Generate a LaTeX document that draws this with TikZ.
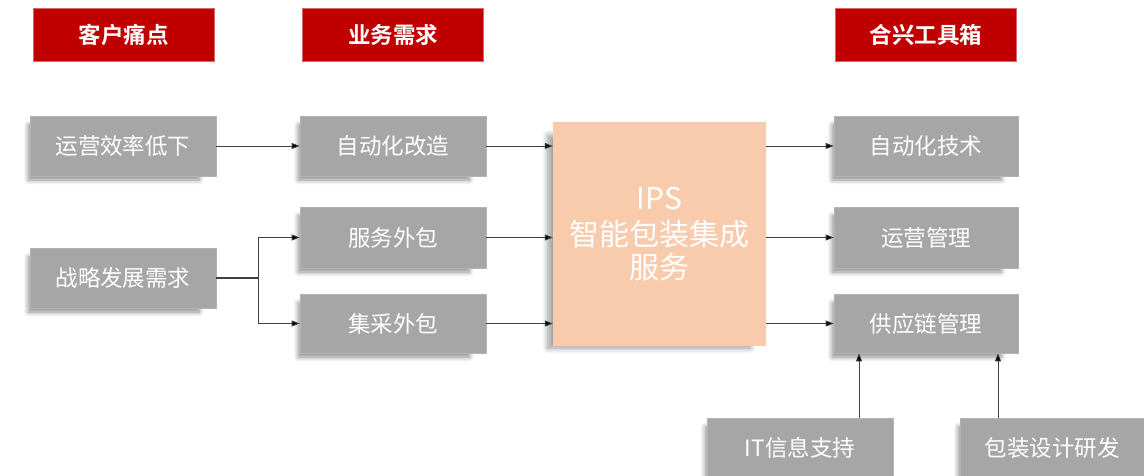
\documentclass[tikz,border=0pt]{standalone}
\usepackage{fontspec}
\newfontfamily\cjk{Noto Sans CJK SC}[BoldFont={Noto Sans CJK SC Bold}]
\usetikzlibrary{arrows.meta,shadows.blur,calc}
\definecolor{hdrred}{HTML}{C00000}
\definecolor{boxgray}{HTML}{A6A6A6}
\definecolor{ipsorange}{HTML}{F8CBAD}
\definecolor{linegray}{HTML}{404040}
\tikzset{
  hdr/.style={fill=hdrred,draw=hdrred!60,line width=0.8pt,text=white,minimum width=181pt,minimum height=53pt,inner sep=0pt,font=\cjk\bfseries\fontsize{22.5}{26}\selectfont},
  gbox/.style={fill=boxgray,draw=boxgray!85!white,line width=0.6pt,text=white,minimum width=186pt,minimum height=60pt,inner sep=0pt,font=\cjk\fontsize{22.5}{26}\selectfont,
    blur shadow={shadow xshift=-10pt,shadow yshift=-7pt,shadow scale=0.92,shadow blur steps=8,shadow blur radius=5pt,shadow opacity=45}},
  ipsbox/.style={fill=ipsorange,text=white,minimum width=213pt,minimum height=224pt,inner sep=0pt,align=center,font=\cjk\fontsize{30}{37}\selectfont,
    blur shadow={shadow xshift=-11pt,shadow yshift=-8pt,shadow scale=0.95,shadow blur steps=8,shadow blur radius=6pt,shadow opacity=40}},
  arr/.style={draw=linegray,line width=0.8pt,-{Triangle[length=8pt,width=6pt,fill=black]}},
}
\begin{document}
\begin{tikzpicture}[x=1pt,y=-1pt]
\useasboundingbox (0,0) rectangle (1144,476);
\clip (0,0) rectangle (1144,476);
% headers
\node[hdr] (h1) at (123.5,34.5) {客户痛点};
\node[hdr] (h2) at (393,34.5) {业务需求};
\node[hdr] (h3) at (926,34.5) {合兴工具箱};
% left column
\node[gbox] (a1) at (123,146) {运营效率低下};
\node[gbox] (a2) at (123,278) {战略发展需求};
% middle column
\node[gbox] (b1) at (393,146) {自动化改造};
\node[gbox,minimum height=61pt] (b2) at (393,237.5) {服务外包};
\node[gbox,minimum height=59pt] (b3) at (393,323.5) {集采外包};
% IPS
\node[ipsbox] (ips) at (659.5,234) {IPS\\[-1pt]智能包装集成\\[-4pt]服务};
% right column
\node[gbox,minimum width=184pt] (c1) at (926,146) {自动化技术};
\node[gbox,minimum width=184pt,minimum height=61pt] (c2) at (926,237.5) {运营管理};
\node[gbox,minimum width=184pt,minimum height=59pt] (c3) at (926,323.5) {供应链管理};
% bottom
\node[gbox] (d1) at (800,448) {IT信息支持};
\node[gbox,minimum width=184pt] (d2) at (1052,448) {包装设计研发};
% helper coordinates
\coordinate (j) at (258,278);
\coordinate (p1) at (859,0);
\coordinate (p2) at (998,0);
% connectors
\draw[arr] (a1.east) -- (b1.west);
\draw[linegray,line width=1.8pt] (a2.east) -- (j);
\draw[arr] (j) |- (b2.west);
\draw[arr] (j) |- (b3.west);
\draw[arr] (b1.east) -- (b1.east -| ips.west);
\draw[arr] (b2.east) -- (b2.east -| ips.west);
\draw[arr] (b3.east) -- (b3.east -| ips.west);
\draw[arr] (c1.west -| ips.east) -- (c1.west);
\draw[arr] (c2.west -| ips.east) -- (c2.west);
\draw[arr] (c3.west -| ips.east) -- (c3.west);
\draw[arr] (d1.north -| p1) -- (c3.south -| p1);
\draw[arr] (d2.north -| p2) -- (c3.south -| p2);
\end{tikzpicture}
\end{document}
